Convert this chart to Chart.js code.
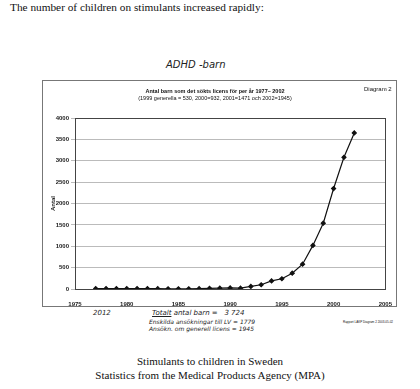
<!DOCTYPE html>
<html>
<head>
<meta charset="utf-8">
<script src="https://cdn.jsdelivr.net/npm/chart.js@4"></script>
<style>
  html, body { margin: 0; padding: 0; background: #fff; }
  body { width: 420px; height: 389px; position: relative; overflow: hidden; }
  .t { position: absolute; white-space: nowrap; color: #111; }
  .serif { font-family: "Liberation Serif", "Times New Roman", serif; font-size: 11px; }
  .hand { font-family: "DejaVu Sans", sans-serif; font-style: italic; color: #222; font-weight: 300; }
  .small { font-family: "Liberation Sans", Arial, sans-serif; font-weight: bold; font-size: 5.5px; }
  #box { position: absolute; left: 42px; top: 80px; width: 353px; height: 225px;
         border: 1px solid #777; }
  #box canvas { position: absolute; left: 0; top: 0; }
</style>
</head>
<body>
<div class="t serif" style="left:10px; top:1px; font-size:11.3px;">The number of children on stimulants increased rapidly:</div>
<div class="t hand" style="left:166px; top:59px; font-size:10px;">ADHD -barn</div>

<div id="box">
  <canvas id="chart" width="353" height="225"></canvas>
</div>
<div class="t small" style="left:215px; top:88px; transform:translateX(-50%); text-align:center; line-height:6.5px;">Antal barn som det sökts licens för per år 1977– 2002<br><span style="font-weight:normal">(1999 generella = 530, 2000=932, 2001=1471 och 2002=1945)</span></div>
<div class="t small" style="left:364px; top:86px; font-weight:normal; font-size:6px;">Diagram 2</div>

<div class="t hand" style="left:93px; top:309px; font-size:7px;">2012</div>
<div class="t hand" style="left:152px; top:309px; font-size:7px;"><u>Totalt</u> antal barn =&nbsp;&nbsp; 3 724</div>
<div class="t hand" style="left:149px; top:318px; font-size:6px;">Enskilda ansökningar till LV = 1779</div>
<div class="t hand" style="left:149px; top:325px; font-size:6px;">Ansökn. om generell licens = 1945</div>
<div class="t small" style="left:343px; top:320px; font-weight:normal; font-size:3px;">Rapport LAKP Diagram 2 2003-05-02</div>

<div class="t serif" style="left:210px; top:355px; transform:translateX(-50%);">Stimulants to children in Sweden</div>
<div class="t serif" style="left:210px; top:369px; transform:translateX(-50%);">Statistics from the Medical Products Agency (MPA)</div>

<script>
const years = [1977, 1978, 1979, 1980, 1981, 1982, 1983, 1984, 1985, 1986, 1987, 1988, 1989,
    1990, 1991, 1992, 1993, 1994, 1995, 1996, 1997, 1998, 1999, 2000, 2001, 2002];
const children = [10, 10, 10, 10, 10, 10, 8, 5, 5, 5, 8, 15, 20,
    25, 20, 60, 100, 190, 240, 370, 580, 1020, 1540, 2350, 3080, 3650];
const xTicks = [1975, 1980, 1985, 1990, 1995, 2000, 2005];
const yTicks = [0, 500, 1000, 1500, 2000, 2500, 3000, 3500, 4000];

// frame around the plot area
const plotFrame = {
    id: 'plotFrame',
    afterDraw(chart) {
        const a = chart.chartArea;
        const ctx = chart.ctx;
        ctx.save();
        ctx.strokeStyle = '#444';
        ctx.lineWidth = 1;
        ctx.strokeRect(Math.round(a.left) + 0.5, Math.round(a.top) + 0.5,
            Math.round(a.right - a.left), Math.round(a.bottom - a.top));
        ctx.restore();
    }
};

const points = years.map((y, i) => ({ x: y, y: children[i] }));
const tickFont = { family: 'Liberation Sans', size: 6, weight: 'bold' };

new Chart(document.getElementById('chart').getContext('2d'), {
    type: 'line',
    data: {
        datasets: [{
            label: 'Antal',
            data: points,
            borderColor: '#111',
            backgroundColor: '#111',
            borderWidth: 1.2,
            pointStyle: 'rectRot',
            pointRadius: 2,
            fill: false,
            tension: 0
        }]
    },
    options: {
        responsive: false,
        animation: false,
        layout: { padding: { top: 37, right: 9, left: 0, bottom: 0 } },
        plugins: {
            legend: { display: false },
            tooltip: { enabled: false }
        },
        scales: {
            x: {
                type: 'linear',
                min: xTicks[0],
                max: xTicks[xTicks.length - 1],
                afterBuildTicks: s => { s.ticks = xTicks.map(v => ({ value: v })); },
                afterFit: s => { s.height = 17; },
                grid: { display: false },
                border: { display: true, color: '#444' },
                ticks: { font: tickFont, color: '#222', padding: 4, maxRotation: 0,
                    callback: v => String(v) }
            },
            y: {
                min: 0,
                max: 4000,
                afterBuildTicks: s => { s.ticks = yTicks.map(v => ({ value: v })); },
                afterFit: s => { s.width = 32; },
                grid: { color: '#aaa', lineWidth: 0.8, tickLength: 4 },
                border: { display: true, color: '#444' },
                title: { display: true, text: 'Antal', font: tickFont, color: '#222',
                    padding: { top: 7, bottom: 0 } },
                ticks: { font: tickFont, color: '#222', padding: 2, callback: v => String(v) }
            }
        }
    },
    plugins: [plotFrame]
});
</script>
</body>
</html>
